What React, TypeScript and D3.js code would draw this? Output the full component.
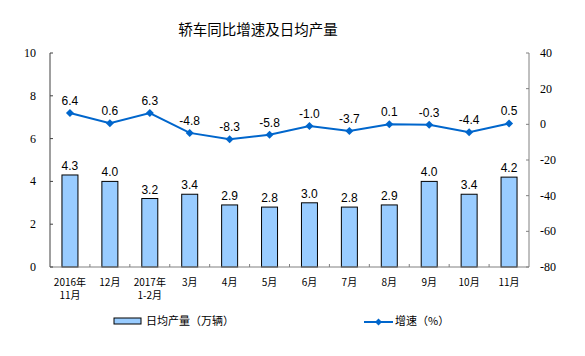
import React from "react";
import * as d3 from "d3";

const categories: string[][] = [
  ["2016年", "11月"], ["12月"], ["2017年", "1-2月"], ["3月"], ["4月"], ["5月"],
  ["6月"], ["7月"], ["8月"], ["9月"], ["10月"], ["11月"],
];
const dailyOutput = [4.3, 4.0, 3.2, 3.4, 2.9, 2.8, 3.0, 2.8, 2.9, 4.0, 3.4, 4.2];
const growth = [6.4, 0.6, 6.3, -4.8, -8.3, -5.8, -1.0, -3.7, 0.1, -0.3, -4.4, 0.5];
const leftTicks = [0, 2, 4, 6, 8, 10];
const rightTicks = [-80, -60, -40, -20, 0, 20, 40];

const W = 585, H = 356;
const L = 50, R = 529, T = 53, B = 267;
const serif = "'Liberation Serif', 'Times New Roman', serif";
const sans = "'Liberation Sans', Arial, 'Noto Sans CJK SC', sans-serif";
const cjk = "'Noto Sans CJK SC', 'Liberation Sans', sans-serif";

export default function App() {
  const x = d3.scaleBand<number>().domain(d3.range(categories.length)).range([L, R]);
  const yL = d3.scaleLinear().domain([0, 10]).range([B, T]);
  const yR = d3.scaleLinear().domain([-80, 40]).range([B, T]);
  const cx = (i: number) => (x(i) as number) + x.bandwidth() / 2;
  const barW = 16;
  const line = d3.line<number>().x((_, i) => cx(i)).y((d) => yR(d));
  const diamond = (px: number, py: number, s = 4) =>
    `M${px},${py - s}L${px + s},${py}L${px},${py + s}L${px - s},${py}Z`;

  return (
    <svg width={W} height={H} style={{ position: "absolute", left: 0, top: 0, background: "#fff" }}>
      <text x={258} y={35} textAnchor="middle" fontSize={14.5} fontFamily={cjk} fill="#000">
        轿车同比增速及日均产量
      </text>

      {/* bars */}
      {dailyOutput.map((v, i) => (
        <g key={"b" + i}>
          <rect x={cx(i) - barW / 2} y={yL(v)} width={barW} height={B - yL(v)}
            fill="#99CCFF" stroke="#000" strokeWidth={1} />
          <text x={cx(i)} y={yL(v) - 5} textAnchor="middle" fontSize={12} fontFamily={sans} fill="#000">
            {v.toFixed(1)}
          </text>
        </g>
      ))}

      {/* axes */}
      <line x1={L} y1={T} x2={L} y2={B} stroke="#404040" strokeWidth={1} />
      <line x1={R} y1={T} x2={R} y2={B} stroke="#808080" strokeWidth={1} />
      <line x1={L} y1={B} x2={R} y2={B} stroke="#808080" strokeWidth={1} />
      {leftTicks.map((t) => (
        <g key={"lt" + t}>
          <line x1={L} x2={L + 3} y1={yL(t)} y2={yL(t)} stroke="#404040" />
          <text x={36} y={yL(t) + 4} textAnchor="end" fontSize={12} fontFamily={serif} fill="#000">{t}</text>
        </g>
      ))}
      {rightTicks.map((t) => (
        <g key={"rt" + t}>
          <line x1={R - 3} x2={R} y1={yR(t)} y2={yR(t)} stroke="#808080" />
          <text x={540} y={yR(t) + 4} textAnchor="start" fontSize={12} fontFamily={serif} fill="#000">{t}</text>
        </g>
      ))}
      {d3.range(1, categories.length).map((i) => (
        <line key={"xt" + i} x1={x(i) as number} x2={x(i) as number} y1={B} y2={B - 3} stroke="#808080" />
      ))}
      {categories.map((c, i) =>
        c.map((s, j) => (
          <text key={"c" + i + "-" + j} x={cx(i)} y={286 + j * 13} textAnchor="middle"
            fontSize={10} fontFamily={cjk} fill="#000">
            {s}
          </text>
        ))
      )}

      {/* line */}
      <path d={line(growth) || ""} fill="none" stroke="#0066CC" strokeWidth={2} />
      {growth.map((v, i) => (
        <g key={"p" + i}>
          <path d={diamond(cx(i), yR(v))} fill="#0066CC" />
          <text x={cx(i)} y={yR(v) - 8} textAnchor="middle" fontSize={12} fontFamily={sans} fill="#000">
            {v.toFixed(1)}
          </text>
        </g>
      ))}

      {/* legend */}
      <rect x={114} y={318} width={27} height={6} fill="#99CCFF" stroke="#000" strokeWidth={1} />
      <text x={146} y={325} fontSize={11} fontFamily={cjk} fill="#000">日均产量（万辆）</text>
      <line x1={364} x2={393} y1={322} y2={322} stroke="#0066CC" strokeWidth={2} />
      <path d={diamond(378.5, 322, 3.5)} fill="#0066CC" />
      <text x={395} y={325} fontSize={11} fontFamily={cjk} fill="#000">增速（%）</text>
    </svg>
  );
}
